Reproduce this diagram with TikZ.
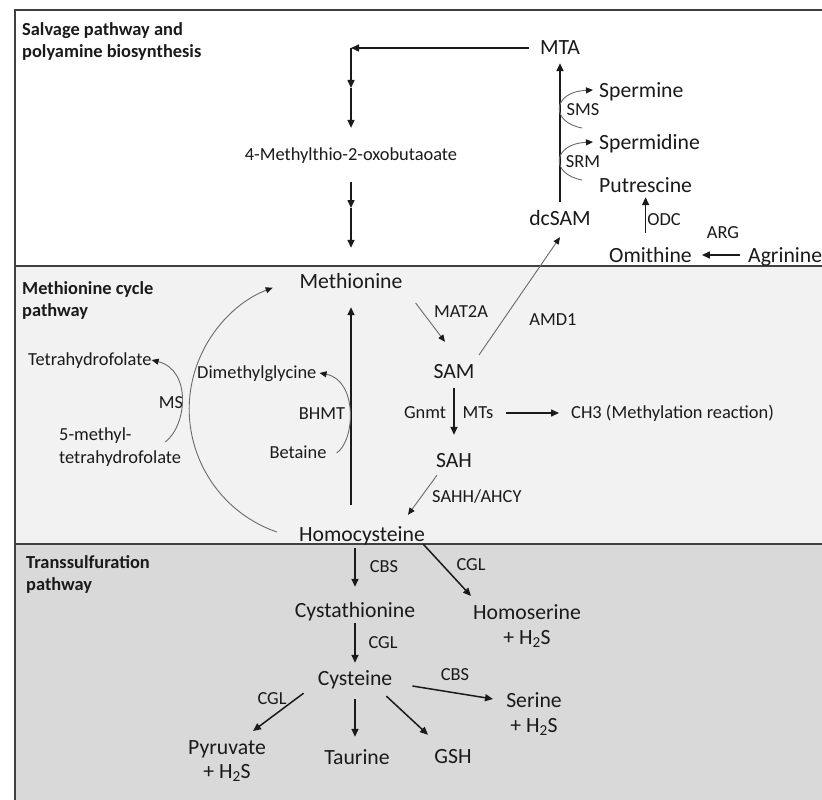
\documentclass[tikz,border=0pt]{standalone}
\usepackage{fontspec}
\setmainfont{Carlito}
\usetikzlibrary{arrows.meta,calc}
\definecolor{midband}{HTML}{F2F2F2}
\definecolor{lowband}{HTML}{D9D9D9}
\definecolor{rulegray}{HTML}{404040}
\definecolor{ink}{HTML}{1A1A1A}
\definecolor{thinink}{HTML}{6A6A6A}
\begin{document}
\begin{tikzpicture}[x=1pt,y=1pt,
    mol/.style={font=\fontsize{21.7}{24.5}\selectfont, text=ink, inner sep=0pt, text height=14pt, text depth=0pt},
    mols/.style={font=\fontsize{21.7}{24.5}\selectfont, text=ink, inner sep=0pt, align=center},
    lbl/.style={font=\fontsize{18.4}{23}\selectfont, text=ink, inner sep=0pt, text height=11.8pt, text depth=0pt},
    ttl/.style={font=\fontsize{18.4}{22}\selectfont\bfseries, text=ink, inner sep=0pt, align=left, anchor=north west},
    arr/.style={draw=ink, line width=1.5pt, -{Triangle[length=8pt,width=7pt]}},
    tarr/.style={draw=thinink, line width=0.9pt, -{Triangle[length=7pt,width=6pt,color=ink]}},
    band/.style={draw=rulegray, line width=1.7pt}]
    \useasboundingbox (0,0) rectangle (822,-800);
    \clip (0,0) rectangle (822,-800);
    \fill[white] (0,0) rectangle (822,-800);
    \fill[midband] (15,-266) rectangle (830,-544);
    \fill[lowband] (15,-544) rectangle (830,-810);
    \draw[band] (830,-10) -- (15,-10) -- (15,-810);
    \draw[band] (15,-266) -- (830,-266);
    \draw[band] (15,-544) -- (830,-544);

    % section titles
    \node[ttl] (t1) at (22,-22) {Salvage pathway and\\polyamine biosynthesis};
    \node[ttl] (t2) at (22,-281) {Methionine cycle\\pathway};
    \node[ttl] (t3) at (26,-555) {Transsulfuration\\pathway};

    % salvage and polyamines
    \node[mol] (mta) at (560,-48) {MTA};
    \node[mol, anchor=west] (spm) at (599,-90) {Spermine};
    \node[mol, anchor=west] (spd) at (599,-142) {Spermidine};
    \node[mol, anchor=west] (put) at (599,-185) {Putrescine};
    \node[mol] (dcsam) at (560,-218) {dcSAM};
    \node[mol, anchor=west] (orn) at (609,-255) {Omithine};
    \node[mol, anchor=west] (agr) at (748,-255) {Agrinine};
    \node[lbl] (oxo) at (351,-155) {4-Methylthio-2-oxobutaoate};
    \node[lbl] (sms) at (583,-110) {SMS};
    \node[lbl] (srm) at (583,-162) {SRM};
    \node[lbl] (odc) at (664,-220) {ODC};
    \node[lbl] (argl) at (723,-233) {ARG};

    % methionine cycle
    \node[mol] (met) at (351,-281) {Methionine};
    \node[mol] (sam) at (454,-371) {SAM};
    \node[mol] (sah) at (454,-460) {SAH};
    \node[mol] (hcy) at (362,-534) {Homocysteine};
    \node[lbl, anchor=west] (tetra) at (28,-360) {Tetrahydrofolate};
    \node[font=\fontsize{18.4}{23}\selectfont, text=ink, inner sep=0pt, align=left, anchor=west] (mthf) at (59,-447) {5-methyl-\\tetrahydrofolate};
    \node[lbl, anchor=west] (dmg) at (197,-373) {Dimethylglycine};
    \node[lbl] (bet) at (298,-453) {Betaine};
    \node[lbl] (ms) at (171,-403) {MS};
    \node[lbl] (bhmt) at (322,-414) {BHMT};
    \node[lbl] (mat) at (461,-312) {MAT2A};
    \node[lbl] (amd) at (553,-320) {AMD1};
    \node[lbl] (gnmt) at (425,-413) {Gnmt};
    \node[lbl] (mts) at (478,-413) {MTs};
    \node[lbl, anchor=west] (ch3) at (571,-413) {CH3 (Methylation reaction)};
    \node[lbl, anchor=west] (sahh) at (432,-497) {SAHH/AHCY};

    % transsulfuration
    \node[mol] (cysta) at (355,-610) {Cystathionine};
    \node[mol] (cys) at (355,-678) {Cysteine};
    \node[mols] (pyr) at (227,-761) {Pyruvate\\+ H\textsubscript{2}S};
    \node[mol] (tau) at (357,-757) {Taurine};
    \node[mol] (gsh) at (453,-756) {GSH};
    \node[mols] (ser) at (534,-714) {Serine\\+ H\textsubscript{2}S};
    \node[mols] (hser) at (527,-626) {Homoserine\\+ H\textsubscript{2}S};
    \node[lbl] (cbsa) at (384,-567) {CBS};
    \node[lbl] (cgla) at (383,-643) {CGL};
    \node[lbl] (cglb) at (272,-699) {CGL};
    \node[lbl] (cbsb) at (455,-675) {CBS};
    \node[lbl] (cglc) at (471,-565) {CGL};

    % salvage arrows
    \coordinate (turn) at (351,-48);
    \coordinate (mid1) at (351,-88);
    \coordinate (mid2) at (351,-208);
    \draw[arr] ([xshift=-11pt]mta.west) -- (turn);
    \draw[arr] (turn) -- (mid1);
    \draw[arr] (mid1) -- ([yshift=21pt]oxo.north);
    \draw[arr] ([yshift=-21pt]oxo.south) -- (mid2);
    \draw[arr] (mid2) -- ([yshift=26pt]met.north);
    \draw[arr] ([yshift=9pt]dcsam.north) -- ([yshift=-8pt]mta.south);
    \draw[tarr] ([shift={(-17,14)}]spd.west) .. controls +(-32,6) and +(-41,-2) .. ([xshift=-6pt]spm.west);
    \draw[tarr] ([shift={(-17,5)}]put.west) .. controls +(-32,6) and +(-41,-2) .. ([xshift=-6pt]spd.west);
    \draw[arr] ($(put.south |- orn.north)+(0,15)$) -- ([yshift=-5pt]put.south);
    \draw[arr] ([xshift=-8pt]agr.west) -- ([xshift=10pt]orn.east);

    % cycle arrows
    \draw[tarr] ([shift={(25,16)}]sam.center) -- ([yshift=-12pt]dcsam.south);
    \draw[tarr] ([shift={(13,-22)}]met.east) -- ([shift={(-9,22)}]sam.north);
    \draw[arr] ([yshift=-10pt]sam.south) -- ([yshift=18pt]sah.north);
    \draw[arr] ([xshift=13pt]mts.east) -- ([xshift=-12pt]ch3.west);
    \draw[tarr] ([shift={(-17,-8)}]sah.south) -- ([shift={(46,12)}]hcy.north);
    \draw[arr] ($(hcy.north -| met)+(0,22)$) -- ([yshift=-19pt]met.south);
    \draw[tarr] ([xshift=10pt]bet.east) .. controls +(19,13) and +(38,-7) .. ([xshift=3pt]dmg.east);
    \draw[tarr] ([shift={(-16,5)}]mthf.east) .. controls +(22,17) and +(40,-10) .. (tetra.east);
    \draw[tarr] ([shift={(-22,2)}]hcy.west) arc[start angle=251, end angle=111, radius=130];

    % transsulfuration arrows
    \draw[arr] ($(hcy.south -| cysta)+(0,-7)$) -- ([yshift=16pt]cysta.north);
    \draw[arr] ([yshift=-6pt]cysta.south) -- ([yshift=8pt]cys.north);
    \draw[arr] ([shift={(-14,-8)}]cys.south west) -- ([shift={(26,30)}]pyr.center);
    \draw[arr] ([yshift=-14pt]cys.south) -- ($(cys.south |- tau.north)+(0,13)$);
    \draw[arr] ([shift={(-6,-11)}]cys.south east) -- ([shift={(-25,14)}]gsh.north);
    \draw[arr] ([shift={(20,-8)}]cys.east) -- ([shift={(-41,15)}]ser.center);
    \draw[arr] ([shift={(-2,-10)}]hcy.east) -- ([shift={(-56,30)}]hser.center);
\end{tikzpicture}
\end{document}
